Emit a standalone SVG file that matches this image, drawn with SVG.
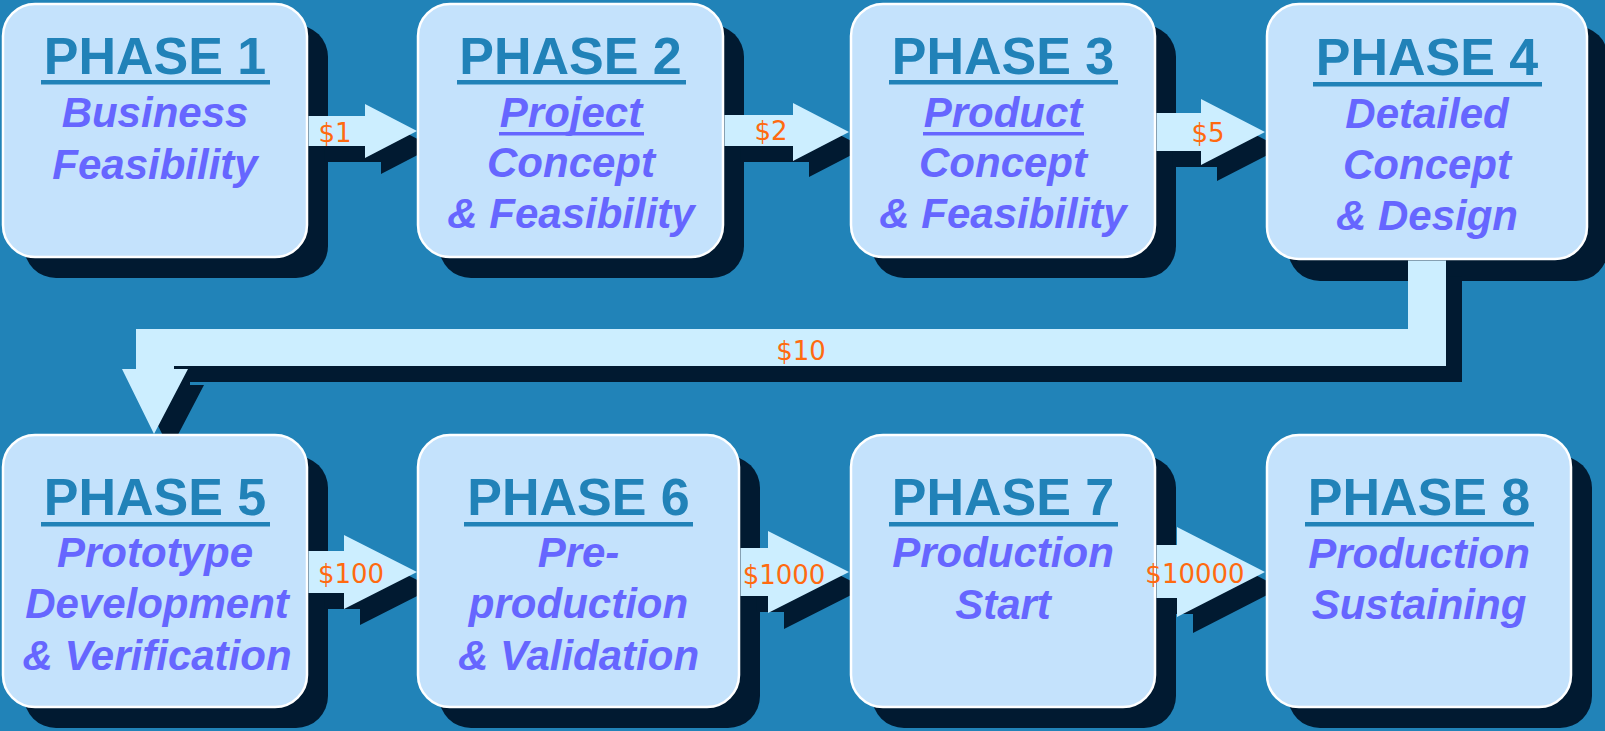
<svg xmlns="http://www.w3.org/2000/svg" xmlns:xlink="http://www.w3.org/1999/xlink" width="1605" height="731" viewBox="0 0 1605 731">
<style>
.bg{fill:#2183B8}
.sh{fill:#011A31}
.box{fill:#C4E2FC;stroke:#FFFFFF;stroke-width:2.5}
.arr{fill:#CCEEFF}
.title{font-family:"Liberation Sans",Arial,sans-serif;font-weight:bold;font-size:52px;fill:#2182B8;text-anchor:middle}
.sub{font-family:"Liberation Sans",Arial,sans-serif;font-weight:bold;font-style:italic;font-size:42px;fill:#6666FF;text-anchor:middle}
.ul{fill:#2182B8}
.ul2{fill:#6666FF}
.cost{font-family:"DejaVu Sans",Verdana,sans-serif;font-size:26px;fill:#FF6A10;text-anchor:middle}
</style>
<defs>
<polygon id="a1" points="308.5,116 365,116 365,104 417,131 365,158 365,146 308.5,146"/>
<polygon id="a2" points="724.5,115 793,115 793,103 849,132 793,161 793,146 724.5,146"/>
<polygon id="a3" points="1156.5,113 1201,113 1201,99 1265,132 1201,165 1201,151 1156.5,151"/>
<polygon id="a4" points="1408,260.5 1446,260.5 1446,366 174,366 174,369 188,369 154,434 122,369 136,369 136,329 1408,329"/>
<polygon id="a5" points="308.5,551 344,551 344,535 417,572 344,609 344,593 308.5,593"/>
<polygon id="a6" points="740.5,548 768,548 768,531 849,572 768,613 768,596 740.5,596"/>
<polygon id="a7" points="1156.5,545 1177,545 1177,527 1265,572 1177,617 1177,598 1156.5,598"/>
</defs>
<rect class="bg" x="0" y="0" width="1605" height="731"/>
<g id="shadows" class="sh">
<rect x="24" y="25" width="304" height="253" rx="32"/>
<rect x="439" y="25" width="305" height="253" rx="32"/>
<rect x="872" y="25" width="304" height="253" rx="32"/>
<rect x="1288" y="26" width="320" height="255" rx="32"/>
<rect x="24" y="456" width="304" height="272" rx="32"/>
<rect x="439" y="456" width="321" height="272" rx="32"/>
<rect x="872" y="456" width="304" height="272" rx="32"/>
<rect x="1288" y="456" width="304" height="272" rx="32"/>
<use xlink:href="#a1" transform="translate(16,16)"/>
<use xlink:href="#a2" transform="translate(16,16)"/>
<use xlink:href="#a3" transform="translate(16,16)"/>
<use xlink:href="#a4" transform="translate(16,16)"/>
<use xlink:href="#a5" transform="translate(16,16)"/>
<use xlink:href="#a6" transform="translate(16,16)"/>
<use xlink:href="#a7" transform="translate(16,16)"/>
</g>
<g id="phase1">
<rect class="box" x="3" y="4" width="304" height="253" rx="32"/>
<text class="title" x="155" y="74">PHASE 1</text>
<rect class="ul" x="41" y="80" width="229" height="4.5"/>
<text class="sub" x="155" y="127">Business</text>
<text class="sub" x="155" y="179">Feasibility</text>
</g>
<g id="phase2">
<rect class="box" x="418" y="4" width="305" height="253" rx="32"/>
<text class="title" x="570.5" y="74">PHASE 2</text>
<rect class="ul" x="457" y="80" width="229" height="4.5"/>
<text class="sub" x="571" y="127">Project</text>
<rect class="ul2" x="499" y="132" width="145" height="3.5"/>
<text class="sub" x="571" y="177">Concept</text>
<text class="sub" x="571" y="228">&amp; Feasibility</text>
</g>
<g id="phase3">
<rect class="box" x="851" y="4" width="304" height="253" rx="32"/>
<text class="title" x="1003" y="74">PHASE 3</text>
<rect class="ul" x="889" y="80" width="229" height="4.5"/>
<text class="sub" x="1003" y="127">Product</text>
<rect class="ul2" x="923" y="132" width="161" height="3.5"/>
<text class="sub" x="1003" y="177">Concept</text>
<text class="sub" x="1003" y="228">&amp; Feasibility</text>
</g>
<g id="phase4">
<rect class="box" x="1267" y="4" width="320" height="255" rx="32"/>
<text class="title" x="1427" y="75">PHASE 4</text>
<rect class="ul" x="1313" y="82" width="229" height="4.5"/>
<text class="sub" x="1427" y="128">Detailed</text>
<text class="sub" x="1427" y="179">Concept</text>
<text class="sub" x="1427" y="230">&amp; Design</text>
</g>
<g id="phase5">
<rect class="box" x="3" y="435" width="304" height="272" rx="32"/>
<text class="title" x="155" y="515">PHASE 5</text>
<rect class="ul" x="41" y="522" width="229" height="4.5"/>
<text class="sub" x="155" y="567">Prototype</text>
<text class="sub" x="157" y="618">Development</text>
<text class="sub" x="157" y="670">&amp; Verification</text>
</g>
<g id="phase6">
<rect class="box" x="418" y="435" width="321" height="272" rx="32"/>
<text class="title" x="578.5" y="515">PHASE 6</text>
<rect class="ul" x="464" y="522" width="229" height="4.5"/>
<text class="sub" x="578.5" y="567">Pre-</text>
<text class="sub" x="578.5" y="618">production</text>
<text class="sub" x="578.5" y="670">&amp; Validation</text>
</g>
<g id="phase7">
<rect class="box" x="851" y="435" width="304" height="272" rx="32"/>
<text class="title" x="1003" y="515">PHASE 7</text>
<rect class="ul" x="889" y="522" width="229" height="4.5"/>
<text class="sub" x="1003" y="567">Production</text>
<text class="sub" x="1003" y="619">Start</text>
</g>
<g id="phase8">
<rect class="box" x="1267" y="435" width="304" height="272" rx="32"/>
<text class="title" x="1419" y="515">PHASE 8</text>
<rect class="ul" x="1305" y="522" width="229" height="4.5"/>
<text class="sub" x="1419" y="568">Production</text>
<text class="sub" x="1419" y="619">Sustaining</text>
</g>
<g id="connectors">
<use xlink:href="#a1" class="arr"/>
<use xlink:href="#a2" class="arr"/>
<use xlink:href="#a3" class="arr"/>
<use xlink:href="#a4" class="arr"/>
<use xlink:href="#a5" class="arr"/>
<use xlink:href="#a6" class="arr"/>
<use xlink:href="#a7" class="arr"/>
<text class="cost" x="335" y="142">$1</text>
<text class="cost" x="771" y="140">$2</text>
<text class="cost" x="1208" y="142">$5</text>
<text class="cost" x="801" y="360">$10</text>
<text class="cost" x="351" y="583">$100</text>
<text class="cost" x="784" y="584">$1000</text>
<text class="cost" x="1195" y="583">$10000</text>
</g>
</svg>
